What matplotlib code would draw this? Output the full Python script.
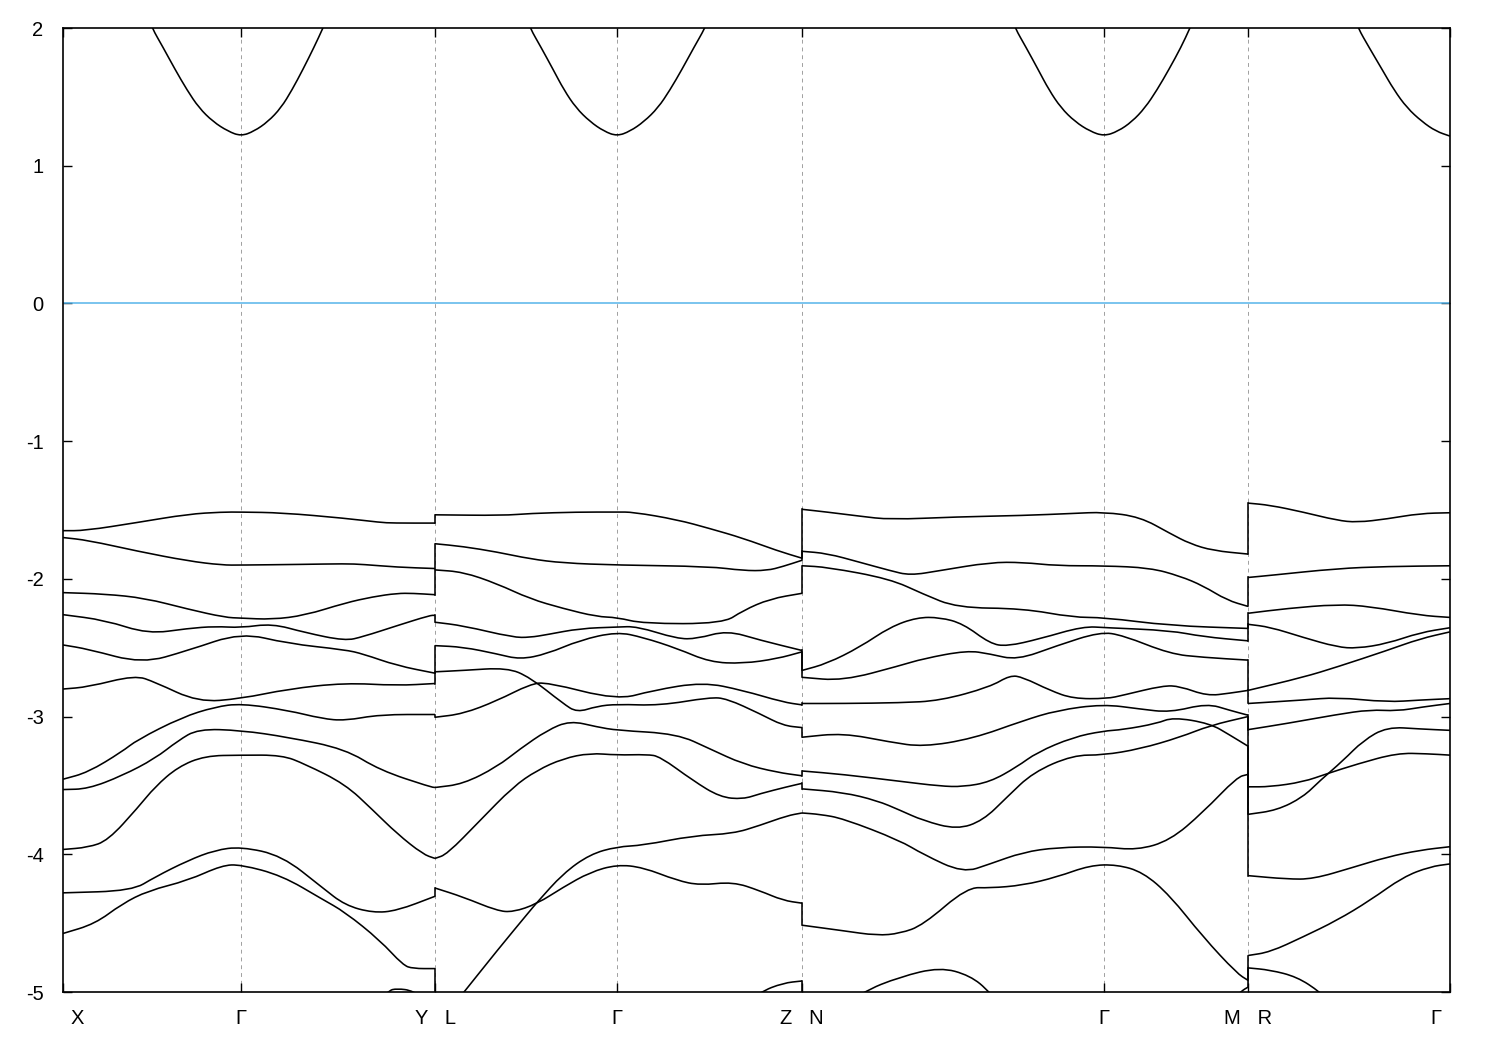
import matplotlib
matplotlib.use("Agg")
import matplotlib.pyplot as plt
from matplotlib.path import Path
from matplotlib.patches import PathPatch
from matplotlib.transforms import ScaledTranslation

plt.rcParams['font.family'] = ['Liberation Sans', 'DejaVu Sans']
plt.rcParams['axes.unicode_minus'] = False

# high-symmetry points along the k-path
kpts = [0.0, 1.78, 3.72, 5.54, 7.39, 10.41, 11.85, 13.87]
klabels = ['X', 'Γ', 'Y   L', 'Γ', 'Z   N', 'Γ', 'M   R', 'Γ']
yticks = [-5, -4, -3, -2, -1, 0, 1, 2]

# valence bands, path X-Γ-Y : (k, E)
bands_xgy = [
    ([0, 0.22, 0.75, 1.25, 1.59, 1.78, 2.19, 2.82, 3.17, 3.30, 3.72],
     [-1.65, -1.65, -1.59, -1.53, -1.515, -1.515, -1.52, -1.56, -1.59, -1.595, -1.595]),
    ([0, 0.25, 0.75, 1.25, 1.59, 1.78, 2.39, 2.82, 3.00, 3.34, 3.72],
     [-1.70, -1.72, -1.80, -1.87, -1.90, -1.90, -1.895, -1.89, -1.895, -1.915, -1.925]),
    ([0, 0.42, 0.82, 1.25, 1.62, 1.78, 2.09, 2.42, 2.82, 3.10, 3.34, 3.50, 3.72],
     [-2.10, -2.11, -2.14, -2.22, -2.28, -2.285, -2.295, -2.265, -2.175, -2.13, -2.105, -2.105, -2.115]),
    ([0, 0.42, 0.85, 1.25, 1.52, 1.78, 2.09, 2.42, 2.82, 3.00, 3.34, 3.67, 3.72],
     [-2.26, -2.30, -2.40, -2.36, -2.345, -2.355, -2.325, -2.39, -2.45, -2.42, -2.34, -2.265, -2.265]),
    ([0, 0.25, 0.79, 1.25, 1.78, 2.25, 2.82, 3.00, 3.34, 3.72],
     [-2.48, -2.51, -2.615, -2.52, -2.39, -2.47, -2.515, -2.545, -2.63, -2.685]),
    ([0, 0.25, 0.72, 0.92, 1.35, 1.78, 2.25, 2.82, 3.34, 3.72],
     [-2.80, -2.785, -2.70, -2.75, -2.895, -2.87, -2.80, -2.755, -2.775, -2.76]),
    ([0, 0.25, 0.59, 0.74, 1.19, 1.52, 1.78, 2.25, 2.59, 2.82, 3.17, 3.72],
     [-3.455, -3.405, -3.255, -3.17, -3.005, -2.93, -2.905, -2.955, -3.015, -3.03, -2.985, -2.985]),
    ([0, 0.25, 0.59, 0.92, 1.15, 1.35, 1.78, 2.25, 2.82, 3.17, 3.67, 3.72],
     [-3.53, -3.525, -3.43, -3.305, -3.175, -3.09, -3.10, -3.15, -3.235, -3.39, -3.51, -3.515]),
    ([0, 0.25, 0.45, 0.75, 0.92, 1.15, 1.42, 1.78, 2.19, 2.42, 2.82, 3.10, 3.34, 3.60, 3.72],
     [-3.965, -3.95, -3.90, -3.66, -3.51, -3.365, -3.285, -3.28, -3.28, -3.345, -3.49, -3.68, -3.85, -4.00, -4.03]),
    ([0, 0.69, 0.92, 1.25, 1.52, 1.78, 2.19, 2.59, 2.82, 3.10, 3.34, 3.72],
     [-4.28, -4.265, -4.165, -4.045, -3.97, -3.945, -4.01, -4.24, -4.37, -4.425, -4.41, -4.305]),
    ([0, 0.32, 0.59, 0.85, 1.25, 1.59, 1.78, 2.19, 2.59, 2.82, 3.17, 3.40, 3.50, 3.72],
     [-4.575, -4.505, -4.36, -4.265, -4.19, -4.08, -4.075, -4.155, -4.325, -4.42, -4.625, -4.805, -4.83, -4.83]),
    ([0, 3.0, 3.25, 3.34, 3.50, 3.72],
     [-5.6, -5.2, -4.99, -4.975, -4.99, -5.1]),
]

# path L-Γ-Z
bands_lgz = [
    ([3.72, 4.40, 4.67, 5.14, 5.54, 5.70, 6.14, 6.47, 6.80, 7.14, 7.39],
     [-1.535, -1.54, -1.525, -1.515, -1.515, -1.515, -1.57, -1.635, -1.705, -1.795, -1.85]),
    ([3.72, 4.00, 4.34, 4.67, 5.00, 5.54, 6.47, 6.80, 7.04, 7.20, 7.39],
     [-1.745, -1.765, -1.805, -1.855, -1.885, -1.90, -1.91, -1.94, -1.94, -1.91, -1.865]),
    ([3.72, 4.00, 4.34, 4.67, 5.00, 5.34, 5.54, 5.80, 6.60, 6.80, 7.07, 7.39],
     [-1.935, -1.95, -2.035, -2.145, -2.215, -2.275, -2.28, -2.325, -2.325, -2.23, -2.145, -2.105]),
    ([3.72, 4.00, 4.50, 4.67, 4.84, 5.17, 5.54, 5.74, 6.14, 6.34, 6.64, 6.97, 7.39],
     [-2.315, -2.34, -2.425, -2.425, -2.405, -2.36, -2.35, -2.345, -2.435, -2.435, -2.375, -2.445, -2.52]),
    ([3.72, 4.00, 4.34, 4.57, 4.84, 5.17, 5.54, 5.80, 6.14, 6.47, 6.80, 7.14, 7.39],
     [-2.485, -2.495, -2.545, -2.585, -2.545, -2.445, -2.385, -2.425, -2.505, -2.605, -2.615, -2.58, -2.53]),
    ([3.72, 4.00, 4.44, 4.67, 5.00, 5.14, 5.34, 5.54, 5.97, 6.47, 6.64, 6.97, 7.20, 7.39],
     [-2.675, -2.665, -2.645, -2.715, -2.905, -2.97, -2.925, -2.91, -2.92, -2.86, -2.87, -2.98, -3.065, -3.08]),
    ([3.72, 4.00, 4.34, 4.67, 4.84, 5.54, 5.90, 6.40, 6.80, 7.20, 7.39],
     [-3.005, -2.98, -2.885, -2.765, -2.75, -2.88, -2.81, -2.75, -2.81, -2.895, -2.915]),
    ([3.72, 4.00, 4.34, 4.57, 4.84, 5.07, 5.34, 5.54, 6.14, 6.47, 6.80, 7.14, 7.39],
     [-3.515, -3.49, -3.365, -3.235, -3.10, -3.03, -3.075, -3.10, -3.125, -3.235, -3.345, -3.405, -3.43]),
    ([3.72, 3.84, 4.17, 4.50, 4.74, 5.00, 5.27, 5.54, 5.84, 5.97, 6.30, 6.57, 6.80, 6.97, 7.24, 7.39],
     [-4.03, -4.00, -3.755, -3.51, -3.39, -3.305, -3.265, -3.28, -3.275, -3.29, -3.465, -3.585, -3.60, -3.56, -3.51, -3.485]),
    ([3.72, 4.00, 4.34, 4.50, 4.74, 5.00, 5.27, 5.54, 5.80, 6.14, 6.37, 6.70, 6.97, 7.20, 7.39],
     [-4.245, -4.31, -4.41, -4.42, -4.36, -4.24, -4.13, -4.075, -4.095, -4.19, -4.225, -4.20, -4.265, -4.335, -4.355]),
    ([3.72, 4.00, 4.34, 4.67, 4.74, 5.00, 5.27, 5.54, 5.80, 6.30, 6.70, 6.97, 7.24, 7.39],
     [-5.26, -5.01, -4.70, -4.41, -4.35, -4.14, -4.00, -3.945, -3.935, -3.865, -3.85, -3.79, -3.72, -3.70]),
    ([3.72, 6.60, 6.97, 7.20, 7.39],
     [-5.6, -5.2, -5.0, -4.935, -4.92]),
]

# path N-Γ-M
bands_ngm = [
    ([7.39, 7.64, 7.97, 8.27, 8.94, 9.60, 10.10, 10.41, 10.77, 11.07, 11.27, 11.50, 11.85],
     [-1.495, -1.515, -1.545, -1.57, -1.55, -1.54, -1.525, -1.515, -1.55, -1.67, -1.745, -1.795, -1.82]),
    ([7.39, 7.64, 7.97, 8.27, 8.47, 8.77, 9.27, 9.60, 9.94, 10.41, 10.87, 11.17, 11.40, 11.64, 11.85],
     [-1.80, -1.815, -1.88, -1.94, -1.975, -1.94, -1.88, -1.88, -1.905, -1.905, -1.92, -1.98, -2.05, -2.155, -2.20]),
    ([7.39, 7.64, 8.27, 8.60, 8.94, 9.60, 10.10, 10.41, 11.07, 11.85],
     [-1.905, -1.915, -2.00, -2.11, -2.21, -2.215, -2.28, -2.28, -2.34, -2.36]),
    ([7.39, 7.64, 7.97, 8.27, 8.54, 8.77, 9.00, 9.27, 9.44, 9.77, 10.20, 10.44, 11.07, 11.40, 11.85],
     [-2.665, -2.615, -2.495, -2.35, -2.28, -2.28, -2.325, -2.47, -2.49, -2.435, -2.345, -2.355, -2.375, -2.42, -2.45]),
    ([7.39, 7.80, 8.37, 8.60, 9.04, 9.27, 9.54, 9.94, 10.37, 10.60, 11.07, 11.40, 11.85],
     [-2.715, -2.74, -2.63, -2.58, -2.52, -2.545, -2.59, -2.485, -2.385, -2.41, -2.545, -2.57, -2.59]),
    ([7.39, 7.80, 8.27, 8.60, 9.10, 9.60, 9.94, 10.40, 10.77, 11.07, 11.44, 11.67, 11.85],
     [-3.15, -3.12, -3.185, -3.22, -3.16, -3.03, -2.955, -2.91, -2.945, -2.97, -2.905, -2.955, -2.99]),
    ([7.39, 7.80, 8.37, 8.77, 9.27, 9.47, 9.60, 9.87, 10.10, 10.44, 10.60, 11.00, 11.17, 11.44, 11.67, 11.85],
     [-2.905, -2.905, -2.90, -2.885, -2.785, -2.70, -2.715, -2.81, -2.87, -2.87, -2.845, -2.775, -2.78, -2.85, -2.83, -2.81]),
    ([7.39, 7.80, 8.37, 8.77, 9.00, 9.27, 9.54, 9.74, 10.10, 10.40, 10.60, 10.94, 11.10, 11.47, 11.67, 11.85],
     [-3.395, -3.42, -3.47, -3.505, -3.51, -3.475, -3.365, -3.26, -3.15, -3.105, -3.095, -3.05, -3.005, -3.05, -3.135, -3.215]),
    ([7.39, 7.80, 8.14, 8.37, 8.60, 8.94, 9.20, 9.44, 9.70, 10.10, 10.40, 10.77, 11.17, 11.47, 11.85],
     [-3.525, -3.55, -3.61, -3.68, -3.755, -3.82, -3.755, -3.585, -3.405, -3.28, -3.28, -3.235, -3.15, -3.065, -3.00]),
    ([7.39, 7.80, 8.14, 8.37, 8.60, 9.04, 9.27, 9.60, 9.94, 10.27, 10.54, 10.80, 11.07, 11.40, 11.74, 11.85],
     [-4.515, -4.555, -4.59, -4.575, -4.515, -4.24, -4.245, -4.225, -4.165, -4.08, -4.075, -4.13, -4.30, -4.60, -4.865, -4.915]),
    ([7.39, 7.57, 7.80, 8.37, 8.60, 9.00, 9.27, 9.60, 9.94, 10.40, 10.74, 11.07, 11.40, 11.74, 11.85],
     [-3.70, -3.71, -3.74, -3.90, -4.00, -4.135, -4.07, -3.985, -3.95, -3.945, -3.97, -3.90, -3.695, -3.44, -3.42]),
    ([7.39, 7.99, 8.37, 8.77, 9.07, 9.27, 9.60, 11.30, 11.62, 11.79, 11.85],
     [-5.3, -5.0, -4.89, -4.82, -4.88, -5.0, -5.3, -5.3, -5.1, -4.99, -4.965]),
]

# path R-Γ
bands_rg = [
    ([11.85, 12.07, 12.40, 12.74, 12.94, 13.24, 13.57, 13.87],
     [-1.45, -1.465, -1.515, -1.575, -1.59, -1.565, -1.525, -1.52]),
    ([11.85, 12.07, 12.74, 13.24, 13.87],
     [-1.99, -1.975, -1.925, -1.91, -1.905]),
    ([11.85, 12.24, 12.74, 13.07, 13.57, 13.87],
     [-2.25, -2.215, -2.185, -2.20, -2.265, -2.28]),
    ([11.85, 12.07, 12.40, 12.74, 12.94, 13.24, 13.57, 13.87],
     [-2.33, -2.35, -2.425, -2.495, -2.505, -2.47, -2.39, -2.355]),
    ([11.85, 12.40, 12.74, 13.24, 13.57, 13.87],
     [-2.81, -2.715, -2.64, -2.52, -2.435, -2.385]),
    ([11.85, 12.40, 12.74, 13.24, 13.57, 13.87],
     [-2.905, -2.88, -2.86, -2.895, -2.88, -2.87]),
    ([11.85, 12.24, 12.74, 13.07, 13.34, 13.60, 13.87],
     [-3.095, -3.05, -2.985, -2.95, -2.96, -2.93, -2.905]),
    ([11.85, 12.14, 12.40, 12.57, 12.80, 13.00, 13.24, 13.57, 13.87],
     [-3.71, -3.68, -3.585, -3.465, -3.32, -3.175, -3.075, -3.09, -3.10]),
    ([11.85, 12.07, 12.40, 12.64, 12.94, 13.34, 13.64, 13.87],
     [-3.51, -3.51, -3.475, -3.415, -3.345, -3.265, -3.27, -3.28]),
    ([11.85, 12.24, 12.50, 12.90, 13.24, 13.57, 13.87],
     [-4.155, -4.18, -4.18, -4.095, -4.02, -3.97, -3.945]),
    ([11.85, 12.07, 12.40, 12.74, 13.07, 13.40, 13.67, 13.87],
     [-4.735, -4.71, -4.60, -4.48, -4.335, -4.165, -4.09, -4.07]),
    ([11.85, 12.07, 12.34, 12.57, 12.80, 13.87],
     [-4.825, -4.84, -4.89, -5.0, -5.15, -5.6]),
]

# conduction band valleys at each Γ
cb_e = [2.12, 2.0, 1.86, 1.70, 1.55, 1.42, 1.32, 1.25, 1.215,
        1.25, 1.32, 1.42, 1.55, 1.70, 1.86, 2.0, 2.12]
cb_xgy_k = [0.83, 0.89, 1.00, 1.12, 1.24, 1.36, 1.50, 1.65, 1.78,
            1.91, 2.05, 2.18, 2.29, 2.40, 2.51, 2.60, 2.67]
cb_lgz_k = [4.61, 4.67, 4.78, 4.90, 5.01, 5.13, 5.27, 5.41, 5.54,
            5.67, 5.81, 5.95, 6.07, 6.19, 6.31, 6.42, 6.49]
cb_ngm_k = [9.46, 9.52, 9.63, 9.75, 9.86, 9.98, 10.12, 10.27, 10.41,
            10.55, 10.69, 10.82, 10.94, 11.06, 11.18, 11.27, 11.34]
cb_rg_k = [12.89, 12.95, 13.06, 13.19, 13.31, 13.44, 13.59, 13.73, 13.87]


def band_path(k, e):
    # quadratic B-spline through the read points (ends kept fixed)
    pts = list(zip(k, e))
    if len(pts) < 3:
        return Path(pts)
    verts = [pts[0]]
    codes = [Path.MOVETO]
    mids = [((pts[i][0] + pts[i + 1][0]) / 2, (pts[i][1] + pts[i + 1][1]) / 2)
            for i in range(len(pts) - 1)]
    verts.append(mids[0])
    codes.append(Path.LINETO)
    for i in range(1, len(pts) - 1):
        verts += [pts[i], mids[i]]
        codes += [Path.CURVE3, Path.CURVE3]
    verts.append(pts[-1])
    codes.append(Path.LINETO)
    return Path(verts, codes)


fig = plt.figure(figsize=(15, 10.5), dpi=100)
ax = fig.add_axes([63 / 1500, 1 - 992 / 1050, 1387 / 1500, 964 / 1050])

lw = 1.15


def draw(k, e):
    ax.add_patch(PathPatch(band_path(k, e), fill=False, edgecolor='black',
                           lw=lw, joinstyle='round', zorder=3))


# gridlines at inner high-symmetry points
for k in kpts[1:-1]:
    ax.axvline(k, color='#a0a0a0', lw=0.7, ls=(0, (4, 4)), zorder=1)

ax.axhline(0, color='#56b4e9', lw=1.1, zorder=2)

segments = [bands_xgy, bands_lgz, bands_ngm, bands_rg]
for seg in segments:
    for k, e in seg:
        draw(k, e)

# jumps at the path breaks (Y|L, Z|N, M|R): join sorted band ends
for left, right in zip(segments[:-1], segments[1:]):
    kb = left[0][0][-1]
    ends = sorted(e[-1] for k, e in left)
    starts = sorted(e[0] for k, e in right)
    for ea, eb in zip(ends, starts):
        ax.plot([kb, kb], [ea, eb], color='black', lw=lw, zorder=3)

for kk in [cb_xgy_k, cb_lgz_k, cb_ngm_k]:
    draw(kk, cb_e)
draw(cb_rg_k, cb_e[:len(cb_rg_k)])

ax.set_xlim(kpts[0], kpts[-1])
ax.set_ylim(-5, 2)
ax.set_yticks(yticks)
ax.set_yticklabels([str(v) for v in yticks])
ax.set_xticks(kpts)
ax.set_xticklabels(klabels)

ax.tick_params(axis='both', direction='in', length=6.5, width=1.0,
               top=True, right=True, labelsize=14.5)
ax.tick_params(axis='y', pad=14)
ax.tick_params(axis='x', pad=12)
for s in ax.spines.values():
    s.set_linewidth(1.2)

# push first / last k-labels inside the frame, as in the original
xl = ax.get_xticklabels()
xl[0].set_transform(xl[0].get_transform() + ScaledTranslation(0.14, 0, fig.dpi_scale_trans))
xl[-1].set_transform(xl[-1].get_transform() + ScaledTranslation(-0.14, 0, fig.dpi_scale_trans))

fig.savefig('out.png', dpi=100)
